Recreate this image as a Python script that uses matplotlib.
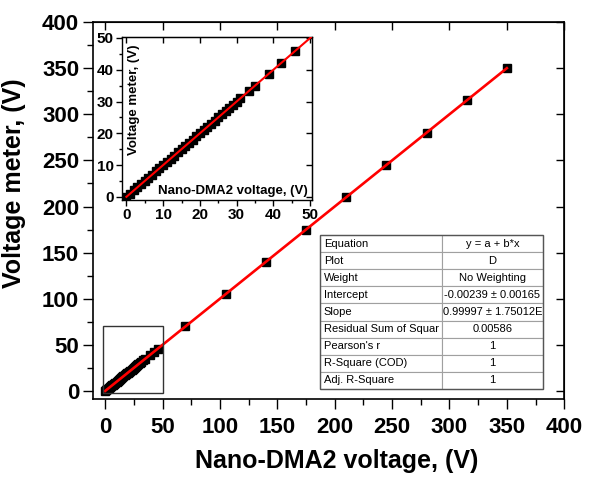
import numpy as np
import matplotlib.pyplot as plt
from matplotlib.patches import Rectangle
from matplotlib.ticker import MultipleLocator

plt.rcParams['font.family'] = ['Liberation Sans', 'DejaVu Sans']

# measured points: Nano-DMA2 setpoint vs. voltmeter reading
dma_v = [0, 1, 2, 3, 4, 5, 6, 7, 8, 9, 10, 11, 12, 13, 14, 15, 16, 17, 18,
         19, 20, 21, 22, 23, 24, 25, 26, 27, 28, 29, 30, 31, 33.3, 35, 38.8,
         42.2, 46, 70, 105, 140, 175, 210, 245, 280, 315, 350]
meter_v = [0, 1, 2, 3, 4, 5, 6, 7, 8, 9, 10, 11, 12, 13, 14, 15, 16, 17, 18,
           19, 20, 21, 22, 23, 24, 25, 26, 27, 28, 29, 30, 31, 33.3, 35, 38.8,
           42.2, 46, 70, 105, 140, 175, 210, 245, 280, 315, 350]

# linear fit y = a + b*x
intercept = -0.00239
slope = 0.99997

fit_rows = ["Equation", "Plot", "Weight", "Intercept", "Slope",
            "Residual Sum of Squar", "Pearson's r", "R-Square (COD)",
            "Adj. R-Square"]
fit_vals = ["y = a + b*x", "D", "No Weighting", "-0.00239 \u00b1 0.00165",
            "0.99997 \u00b1 1.75012E", "0.00586", "1", "1", "1"]

fig = plt.figure(figsize=(5.89, 4.79), dpi=100)
ax = fig.add_axes([0.158, 0.167, 0.800, 0.787])

xfit = np.linspace(0, max(dma_v), 200)
yfit = intercept + slope * xfit

ax.plot(dma_v, meter_v, 's', color='black', markersize=6, zorder=2)
ax.plot(xfit, yfit, '-', color='red', linewidth=1.9, zorder=3)

ax.set_xlim(-10.5, 400)
ax.set_ylim(-8.7, 400)
ax.xaxis.set_major_locator(MultipleLocator(50))
ax.xaxis.set_minor_locator(MultipleLocator(25))
ax.yaxis.set_major_locator(MultipleLocator(50))
ax.yaxis.set_minor_locator(MultipleLocator(25))
ax.tick_params(which='major', direction='out', length=7, width=1,
               labelsize=16, pad=3)
ax.tick_params(which='minor', direction='out', length=4, width=1)
ax.tick_params(axis='x', which='major', pad=6)
for lab in ax.get_xticklabels() + ax.get_yticklabels():
    lab.set_fontweight('bold')
for s in ax.spines.values():
    s.set_linewidth(1.2)

# mirrored ticks on top/right, pointing in
top = ax.secondary_xaxis('top')
top.xaxis.set_major_locator(MultipleLocator(50))
top.tick_params(direction='in', length=6, width=1, labeltop=False)
right = ax.secondary_yaxis('right')
right.yaxis.set_major_locator(MultipleLocator(50))
right.tick_params(direction='in', length=6, width=1, labelright=False)

ax.set_xlabel('Nano-DMA2 voltage, (V)', fontsize=18, fontweight='bold')
ax.set_ylabel('Voltage meter, (V)', fontsize=18, fontweight='bold')
ax.xaxis.set_label_coords(0.516, -0.132)
ax.yaxis.set_label_coords(-0.142, 0.573)

# box marking the zoomed region
ax.add_patch(Rectangle((-1.5, -2), 51.5, 72, fill=False,
                       edgecolor='#333333', linewidth=1, zorder=4))

# fit results table
tbl = ax.table(cellText=[[r, v] for r, v in zip(fit_rows, fit_vals)],
               colWidths=[0.546, 0.454], bbox=[0.482, 0.0265, 0.473, 0.4085],
               zorder=5)
tbl.auto_set_font_size(False)
for (r, c), cell in tbl.get_celld().items():
    cell.set_edgecolor('#a0a0a0')
    cell.set_linewidth(0.8)
    cell.set_facecolor('white')
    cell.get_text().set_fontsize(8)
    if c == 0:
        cell.get_text().set_ha('left')
        cell.PAD = 0.03
    else:
        cell.get_text().set_ha('center')
ax.add_patch(Rectangle((0.482, 0.0265), 0.473, 0.4085, fill=False,
                       transform=ax.transAxes, edgecolor='#555555',
                       linewidth=1, zorder=6))

# inset: low-voltage range
ins = fig.add_axes([122 / 589, 279 / 479, 190 / 589, 163 / 479])
ins.set_facecolor('white')
ins.plot(dma_v, meter_v, 's', color='black', markersize=6, zorder=2)
ins.plot(xfit, yfit, '-', color='red', linewidth=1.5, zorder=3)
ins.set_xlim(-1.2, 50.5)
ins.set_ylim(-1, 50.3)
ins.xaxis.set_major_locator(MultipleLocator(10))
ins.xaxis.set_minor_locator(MultipleLocator(5))
ins.yaxis.set_major_locator(MultipleLocator(10))
ins.yaxis.set_minor_locator(MultipleLocator(5))
ins.tick_params(which='major', direction='out', length=4, width=1,
                labelsize=11, pad=2)
ins.tick_params(which='minor', direction='out', length=2, width=1)
for lab in ins.get_xticklabels() + ins.get_yticklabels():
    lab.set_fontweight('bold')
for s in ins.spines.values():
    s.set_linewidth(1)
itop = ins.secondary_xaxis('top')
itop.xaxis.set_major_locator(MultipleLocator(10))
itop.tick_params(direction='in', length=4, width=1, labeltop=False)
iright = ins.secondary_yaxis('right')
iright.yaxis.set_major_locator(MultipleLocator(10))
iright.tick_params(direction='in', length=4, width=1, labelright=False)

ins.text(0.063, 0.613, 'Voltage meter, (V)', transform=ins.transAxes,
         rotation=90, ha='center', va='center', fontsize=9.5,
         fontweight='bold')
ins.text(0.584, 0.055, 'Nano-DMA2 voltage, (V)', transform=ins.transAxes,
         ha='center', va='center', fontsize=9.5, fontweight='bold')

fig.savefig('out.png', dpi=100)
